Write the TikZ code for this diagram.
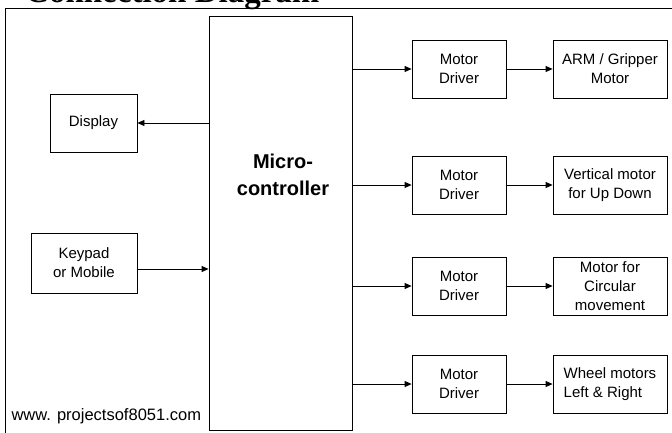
\documentclass[tikz,border=0pt]{standalone}
\usepackage{fontspec}
\setmainfont{Liberation Sans}
\newfontfamily\titlefont{Liberation Serif}
\usetikzlibrary{arrows.meta}

\tikzset{
  blk/.style={draw, line width=0.8pt, inner sep=0pt, align=center, font=\fontsize{15}{19}\selectfont},
  arr/.style={line width=0.8pt, -{Triangle[length=7pt,width=6pt]}}
}

\begin{document}
\begin{tikzpicture}[x=1pt,y=-1pt]
\useasboundingbox (0,0) rectangle (672,432);
\clip (0,0) rectangle (672,432);
\node[anchor=base west, inner sep=0pt, font=\titlefont\bfseries\fontsize{33}{36}\selectfont] (title) at (25,2) {Connection Diagram};
\draw[line width=0.9pt] (5,8) rectangle (690,450);
% controller
\node[blk, minimum width=143pt, minimum height=414pt] (mcu) at (280.5,223) {};
\node[align=center, font=\bfseries\fontsize{20}{27}\selectfont] (mculbl) at (283,175) {Micro-\\controller};
% input / output on the left
\node[blk, minimum width=87pt, minimum height=58pt] (disp) at (93.5,123) {Display};
\node[blk, minimum width=106pt, minimum height=60pt] (keypad) at (84,263) {Keypad\\or Mobile};
\coordinate (kp) at (0,269);
\draw[arr] (mcu.west |- disp) -- (disp);
\draw[arr] (keypad.east |- kp) -- (mcu.west |- kp);
% motor drivers and motors
\foreach \i/\y/\txt/\al in {1/69/{ARM / Gripper\\Motor}/center,2/185/{Vertical motor\\for Up Down}/center,3/286/{Motor for\\Circular\\movement}/center,4/384/{Wheel motors\\Left \& Right}/left}{
  \node[blk, minimum width=94pt, minimum height=58pt] (drv\i) at (459,\y) {Motor\\Driver};
  \node[blk, align=\al, minimum width=114pt, minimum height=58pt] (mot\i) at (610,\y) {\txt};
  \draw[arr] (mcu.east |- drv\i) -- (drv\i);
  \draw[arr] (drv\i) -- (mot\i);
}
\node[anchor=west, font=\fontsize{16.5}{19}\selectfont] (site) at (8,416) {www. projectsof8051.com};
\end{tikzpicture}
\end{document}
